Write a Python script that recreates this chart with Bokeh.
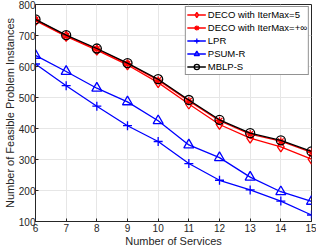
from bokeh.plotting import figure
from bokeh.models import Range1d, FixedTicker, Legend, LegendItem
from bokeh.embed import file_html
from bokeh.resources import INLINE

services = [6, 7, 8, 9, 10, 11, 12, 13, 14, 15]
deco_5 = [748, 697, 653, 605, 548, 479, 413, 369, 341, 301]
deco_inf = [751, 699, 656, 609, 556, 489, 425, 382, 359, 323]
lpr = [608, 538, 472, 409, 358, 287, 233, 202, 166, 121]
psum_r = [636, 584, 530, 486, 425, 347, 306, 243, 196, 165]
mblp_s = [752, 701, 658, 611, 559, 492, 428, 385, 362, 326]
x_ticks = list(range(6, 16))
y_ticks = list(range(100, 801, 100))

FONT = "Liberation Sans"
TXT = "#262626"

p = figure(width=316, height=249, output_backend="svg", toolbar_location=None,
           x_range=Range1d(6, 15), y_range=Range1d(100, 800),
           min_border_left=33, min_border_right=5, min_border_top=4, min_border_bottom=28)
p.background_fill_color = "white"
p.border_fill_color = "white"
p.outline_line_color = TXT
p.outline_line_width = 1

for ax in (p.xaxis[0], p.yaxis[0]):
    ax.major_tick_in = 3
    ax.major_tick_out = 0
    ax.minor_tick_in = 0
    ax.minor_tick_out = 0
    ax.axis_line_color = TXT
    ax.major_tick_line_color = TXT
    ax.major_label_text_font = FONT
    ax.major_label_text_font_size = "10px"
    ax.major_label_text_color = TXT
    ax.axis_label_text_font = FONT
    ax.axis_label_text_font_size = "11px"
    ax.axis_label_text_font_style = "normal"
    ax.axis_label_text_color = TXT
    ax.axis_label_standoff = 0

p.xaxis[0].major_label_standoff = 2
p.yaxis[0].major_label_standoff = 0
p.xaxis[0].ticker = FixedTicker(ticks=x_ticks)
p.yaxis[0].ticker = FixedTicker(ticks=y_ticks)
p.xaxis[0].axis_label = "Number of Services"
p.yaxis[0].axis_label = "Number of Feasible Problem Instances"

p.xgrid.ticker = FixedTicker(ticks=x_ticks)
p.ygrid.ticker = FixedTicker(ticks=y_ticks)
p.grid.grid_line_color = "#E6E6E6"
p.grid.grid_line_width = 1

RED = "#FF0000"
BLUE = "#0000FF"
lw = 1.3

items = []
r1 = p.line(services, deco_5, color=RED, line_width=lw)
m1 = p.scatter(services, deco_5, marker="diamond", size=10, line_color=RED, fill_color=None, line_width=lw)
items.append(LegendItem(label="DECO with IterMax=5", renderers=[r1, m1]))

r2 = p.line(services, deco_inf, color=RED, line_width=lw)
m2 = p.scatter(services, deco_inf, marker="asterisk", size=8, line_color=RED, line_width=lw)
items.append(LegendItem(label="DECO with IterMax=+∞", renderers=[r2, m2]))

r3 = p.line(services, lpr, color=BLUE, line_width=lw)
m3 = p.scatter(services, lpr, marker="cross", size=9, line_color=BLUE, line_width=lw)
items.append(LegendItem(label="LPR", renderers=[r3, m3]))

r4 = p.line(services, psum_r, color=BLUE, line_width=lw)
m4 = p.scatter(services, psum_r, marker="triangle", size=10, line_color=BLUE, fill_color=None, line_width=lw)
items.append(LegendItem(label="PSUM-R", renderers=[r4, m4]))

r5 = p.line(services, mblp_s, color="black", line_width=lw)
m5 = p.scatter(services, mblp_s, marker="circle", size=9, line_color="black", fill_color=None, line_width=lw)
items.append(LegendItem(label="MBLP-S", renderers=[r5, m5]))

legend = Legend(items=items, location="top_right")
legend.label_text_font = FONT
legend.label_text_font_size = "9.5px"
legend.label_text_color = "black"
legend.label_standoff = 2
legend.label_height = 12
legend.glyph_width = 19
legend.glyph_height = 13
legend.spacing = 0
legend.padding = 1
legend.margin = 2
legend.border_line_color = TXT
legend.border_line_width = 1
legend.background_fill_color = "white"
legend.background_fill_alpha = 1
p.add_layout(legend, "center")

open("out.html", "w").write(file_html(p, INLINE))
